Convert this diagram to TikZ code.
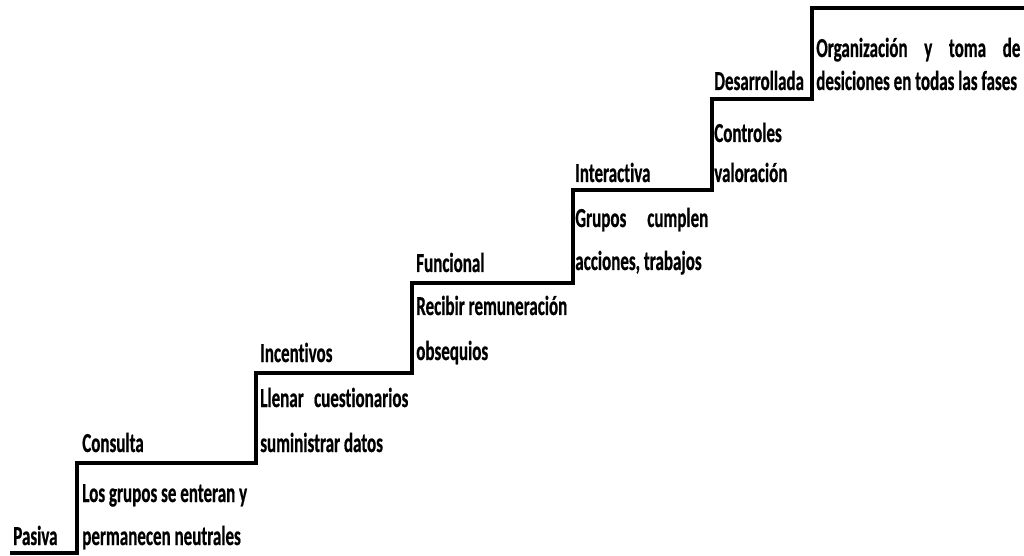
\documentclass[tikz,border=0pt]{standalone}
\usepackage{fontspec}
\setmainfont{Carlito}[FakeStretch=0.62, Ligatures=CommonOff, FakeBold=0.6]
\usetikzlibrary{positioning}

\begin{document}
\begin{tikzpicture}[
    x=0.025cm, y=-0.025cm,
    stair/.style={draw, line width=2.4pt, line join=miter},
    txt/.style={anchor=base west, inner sep=0pt, font=\bfseries\fontsize{19.5}{19.5}\selectfont}
]
\useasboundingbox (0,0) rectangle (1024,556);

% esquinas de la escalera
\coordinate (p0) at (10,553);
\coordinate (c0) at (77,553);
\coordinate (c1) at (77,463);
\coordinate (i0) at (256,463);
\coordinate (i1) at (256,373);
\coordinate (f0) at (412,373);
\coordinate (f1) at (412,283);
\coordinate (n0) at (573,283);
\coordinate (n1) at (573,190);
\coordinate (d0) at (712,190);
\coordinate (d1) at (712,99);
\coordinate (o0) at (812,99);
\coordinate (o1) at (812,8);
\coordinate (fin) at (1024,8);

\draw[stair] (p0) -- (c0) -- (c1) -- (i0) -- (i1) -- (f0) -- (f1) -- (n0) -- (n1)
    -- (d0) -- (d1) -- (o0) -- (o1) -- (fin);

% Etapas
\node[txt] (pasiva) at (13,545) {Pasiva};

\node[txt] (consulta) at (82,452) {Consulta};
\node[txt] (consultaA) at (82,502) {Los grupos se enteran y};
\node[txt] (consultaB) at (82,545) {permanecen neutrales};

\node[txt] (incentivos) at (260,362) {Incentivos};
\node[txt] (incentivosA) at (260,407) {\makebox[3.7cm][s]{Llenar cuestionarios}};
\node[txt] (incentivosB) at (260,452) {suministrar datos};

\node[txt] (funcional) at (416,272) {Funcional};
\node[txt] (funcionalA) at (416,315) {Recibir remuneración};
\node[txt] (funcionalB) at (416,360) {obsequios};

\node[txt] (interactiva) at (575,182) {Interactiva};
\node[txt] (interactivaA) at (575,227) {\makebox[3.325cm][s]{Grupos cumplen}};
\node[txt] (interactivaB) at (575,270) {acciones, trabajos};

\node[txt] (desarrollada) at (714,90) {Desarrollada};
\node[txt] (desarrolladaA) at (714,142) {Controles};
\node[txt] (desarrolladaB) at (714,182) {valoración};

\node[txt] (organizacion) at (816,57) {\makebox[5.1cm][s]{Organización y toma de}};
\node[txt] (organizacionB) at (816,90) {desiciones en todas las fases};

\end{tikzpicture}
\end{document}
